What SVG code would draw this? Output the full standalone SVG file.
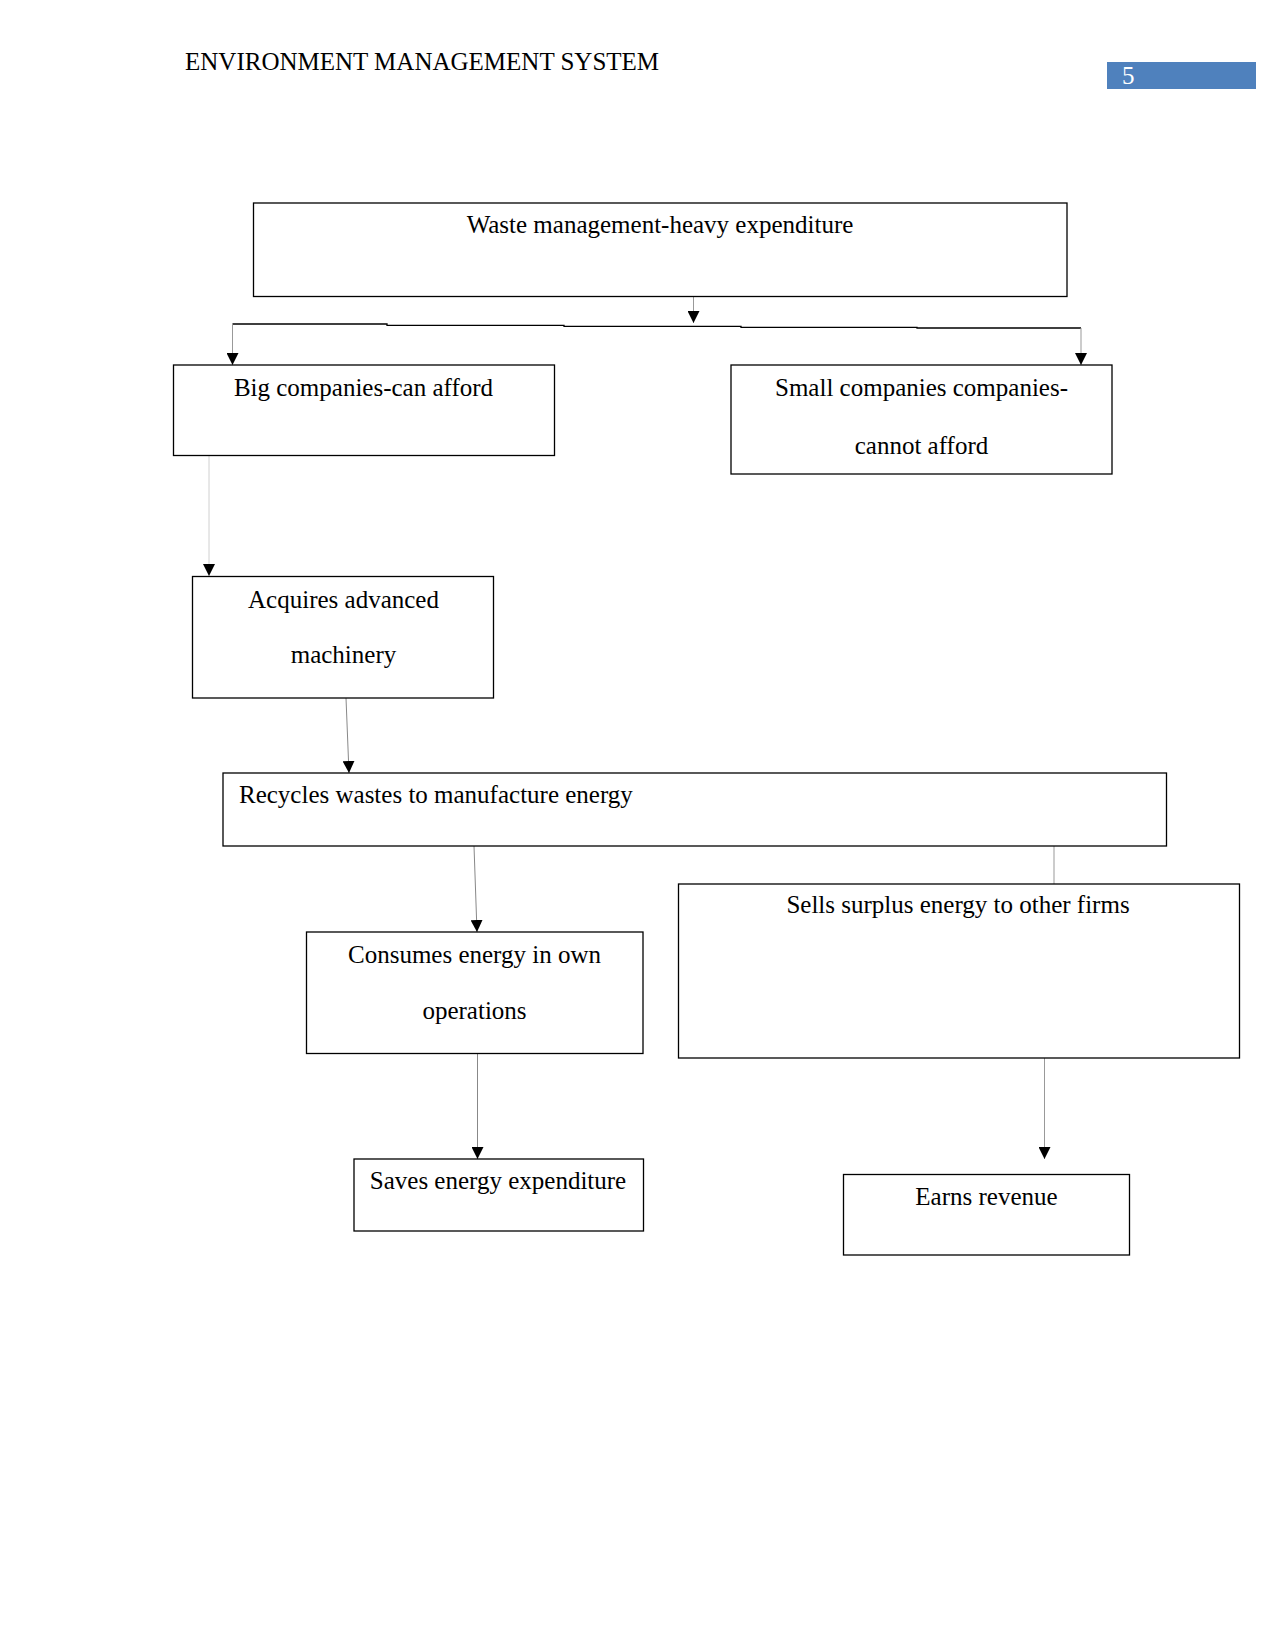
<svg xmlns="http://www.w3.org/2000/svg" width="1275" height="1650" viewBox="0 0 1275 1650">
<style>
.box{fill:#fff;stroke:#000;stroke-width:1.3}
.t{font-family:"Liberation Serif","Times New Roman",serif;font-size:25px;fill:#000}
.c{text-anchor:middle}
.ln{fill:none;stroke:#999;stroke-width:1}
.lt{stroke:#d0d0d0}
.dk{stroke:#888}
</style>
<defs>
<marker id="ah" viewBox="0 0 12 12" refX="12" refY="6" markerWidth="12" markerHeight="12" markerUnits="userSpaceOnUse" orient="auto">
<path d="M0,0 L12,6 L0,12 z" fill="#000"/>
</marker>
</defs>
<rect width="1275" height="1650" fill="#fff"/>
<g transform="translate(1,1)">
<g id="header">
<text class="t" x="184" y="69">ENVIRONMENT MANAGEMENT SYSTEM</text>
<rect x="1106" y="61" width="149" height="27" fill="#4F81BD"/>
<text class="t" x="1121" y="83" style="fill:#fff">5</text>
</g>
<g id="connectors">
<line class="ln" x1="692.5" y1="296" x2="692.5" y2="322" marker-end="url(#ah)"/>
<path d="M231.5,323 H386 V324.3 H563 V325.3 H740 V326.3 H916 V327 H1080" fill="none" stroke="#000" stroke-width="1.3"/>
<line class="ln" x1="231.5" y1="323" x2="231.5" y2="364" marker-end="url(#ah)"/>
<line class="ln" x1="1080" y1="327" x2="1080" y2="364" marker-end="url(#ah)"/>
<line class="ln lt" x1="208" y1="455" x2="208" y2="575" marker-end="url(#ah)"/>
<line class="ln dk" x1="345" y1="697" x2="348" y2="772" marker-end="url(#ah)"/>
<line class="ln dk" x1="473" y1="845" x2="476" y2="931" marker-end="url(#ah)"/>
<line class="ln" x1="1053" y1="845" x2="1053" y2="883"/>
<line class="ln dk" x1="476.5" y1="1053" x2="476.5" y2="1158" marker-end="url(#ah)"/>
<line class="ln" x1="1043.5" y1="1050" x2="1043.5" y2="1158" marker-end="url(#ah)"/>
</g>
<g id="n-waste">
<rect class="box" x="252.5" y="202" width="813.5" height="93.5"/>
<text class="t c" x="659" y="231.5">Waste management-heavy expenditure</text>
</g>
<g id="n-big">
<rect class="box" x="172.5" y="364" width="381" height="90.5"/>
<text class="t c" x="362.5" y="394.5">Big companies-can afford</text>
</g>
<g id="n-small">
<rect class="box" x="730" y="364" width="381" height="109"/>
<text class="t c" x="920.5" y="394.5">Small companies companies-</text>
<text class="t c" x="920.5" y="452.5">cannot afford</text>
</g>
<g id="n-acquires">
<rect class="box" x="191.5" y="575.5" width="301" height="121.5"/>
<text class="t c" x="342.5" y="606.5">Acquires advanced</text>
<text class="t c" x="342.5" y="662">machinery</text>
</g>
<g id="n-recycles">
<rect class="box" x="222" y="772" width="943.5" height="73"/>
<text class="t" x="238" y="801.5">Recycles wastes to manufacture energy</text>
</g>
<g id="n-consumes">
<rect class="box" x="305.5" y="931" width="336.5" height="121.5"/>
<text class="t c" x="473.5" y="961.5">Consumes energy in own</text>
<text class="t c" x="473.5" y="1018">operations</text>
</g>
<g id="n-sells">
<rect class="box" x="677.5" y="883" width="561" height="174"/>
<text class="t c" x="957" y="911.5">Sells surplus energy to other firms</text>
</g>
<g id="n-saves">
<rect class="box" x="353" y="1158" width="289.5" height="72"/>
<text class="t c" x="497" y="1188">Saves energy expenditure</text>
</g>
<g id="n-earns">
<rect class="box" x="842.5" y="1173.5" width="286" height="80.5"/>
<text class="t c" x="985.5" y="1204">Earns revenue</text>
</g>
</g>
</svg>
